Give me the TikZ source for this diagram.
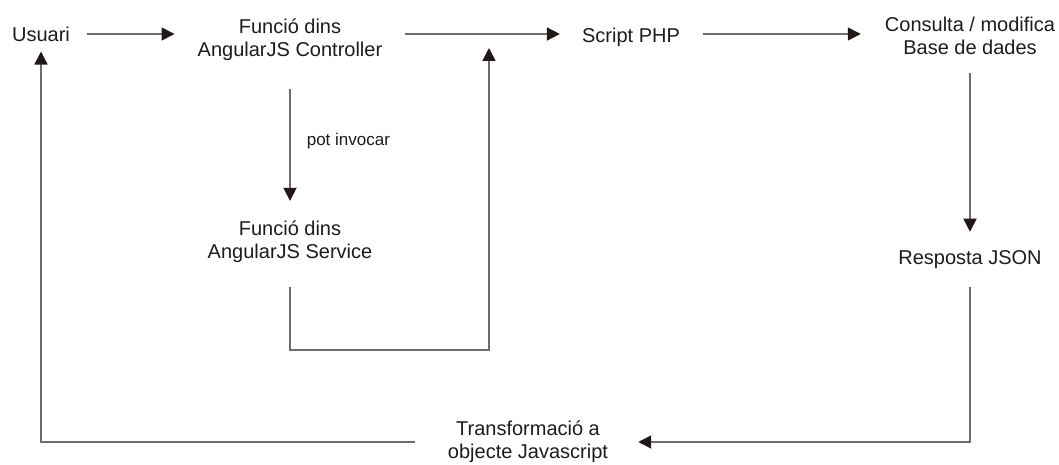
\documentclass[tikz,border=0pt]{standalone}
\usepackage{fontspec}
\setmainfont{Liberation Sans}
\usetikzlibrary{arrows.meta,positioning,calc}

\definecolor{linegray}{RGB}{115,107,107}
\definecolor{headdark}{RGB}{35,24,21}
\definecolor{textdark}{RGB}{28,28,28}

\tikzset{
  box/.style={align=center, inner sep=0pt, text=textdark, font=\fontsize{20}{23}\selectfont},
  flow/.style={draw=linegray, line width=1.6pt, -{Triangle[length=13pt,width=13pt,color=headdark]}}
}

\begin{document}
\begin{tikzpicture}[x=1pt,y=-1pt]
    \useasboundingbox (0,0) rectangle (1059,465);
    % top row
    \node[box] (usr) at (41,34) {Usuari};
    \node[box] (ctrl) at (290,40) {Funció dins\\AngularJS Controller};
    \node[box] (php) at (631,37) {Script PHP};
    \node[box] (bd) at (970,36) {Consulta / modifica\\Base de dades};
    % middle
    \node[box] (srv) at (290,242) {Funció dins\\AngularJS Service};
    \node[box] (json) at (970,260) {Resposta JSON};
    % bottom
    \node[box] (transf) at (528,442) {Transformació a\\objecte Javascript};
    \coordinate (join) at (489,34);
    \coordinate (turn) at (489,350);

    % request
    \draw[flow, shorten <=17pt, shorten >=23pt] (usr.east) -- (usr.east -| ctrl.west);
    \draw[flow, shorten <=23pt, shorten >=22pt] (ctrl.east |- usr) -- (usr -| php.west);
    \draw[flow, shorten <=23pt, shorten >=24pt] (php.east |- usr) -- (usr -| bd.west);
    \draw[flow, shorten <=28pt, shorten >=20pt] (ctrl) -- node[right=16pt, box, font=\fontsize{17}{20}\selectfont] (inv) {pot invocar} (srv);
    \draw[flow, shorten <=24pt, shorten >=14pt] (srv.south) |- (turn) -- (join);
    % answer
    \draw[flow, shorten <=18pt, shorten >=19pt] (bd) -- (json);
    \draw[flow, shorten <=18pt, shorten >=30pt] (json.south) |- (transf.east);
    \draw[flow, shorten <=33pt, shorten >=10pt] (transf.west) -| (usr.south);
\end{tikzpicture}
\end{document}
